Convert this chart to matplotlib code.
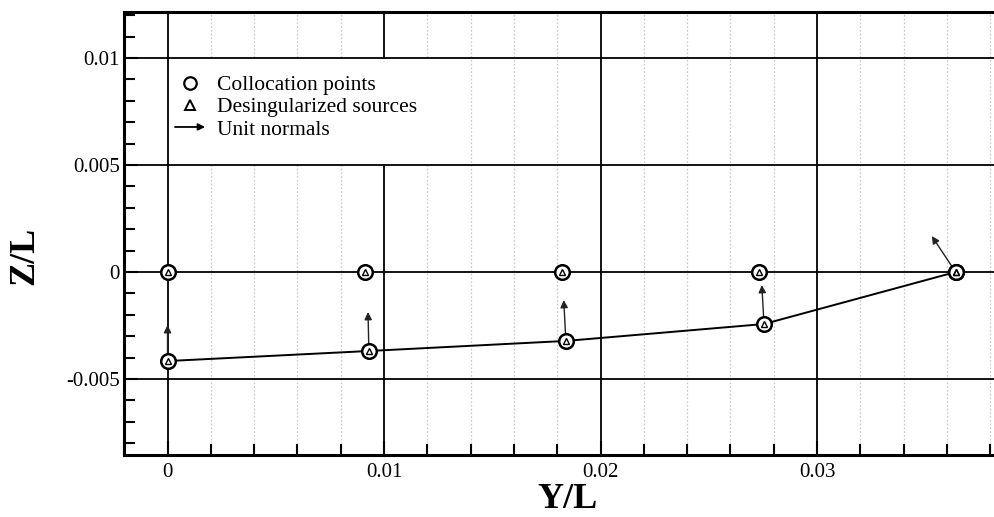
import matplotlib
matplotlib.use("Agg")
import matplotlib.pyplot as plt
from matplotlib.ticker import MultipleLocator, FuncFormatter
from matplotlib.patches import FancyArrowPatch, Rectangle
from matplotlib.legend_handler import HandlerBase
from matplotlib.lines import Line2D

plt.rcParams["font.family"] = ["Liberation Serif", "DejaVu Serif"]

# Points on the free surface (Z/L = 0)
surface_y = [0.0, 0.0091, 0.0182, 0.0273, 0.0364]
surface_z = [0.0, 0.0, 0.0, 0.0, 0.0]

# Points on the body section contour
body_y = [0.0, 0.0093, 0.0184, 0.02755, 0.0364]
body_z = [-0.00416, -0.00369, -0.00322, -0.00243, 0.0]

# Unit normal vectors (scaled) drawn from the body points
normal_dy = [0.0, -0.00004, -0.0001, -0.0001, -0.0011]
normal_dz = [0.00168, 0.00182, 0.00191, 0.00182, 0.00168]

x_major, x_minor = 0.01, 0.002
y_major, y_minor = 0.005, 0.001

W, H = 995, 517
fig = plt.figure(figsize=(W / 100, H / 100), dpi=100)
ax = fig.add_axes([124 / W, 62 / H, 876 / W, 443 / H])
ax.set_xlim(-0.00201, 0.03845)
ax.set_ylim(-0.00855, 0.01215)

ax.set_axisbelow(True)
ax.xaxis.set_major_locator(MultipleLocator(x_major))
ax.xaxis.set_minor_locator(MultipleLocator(x_minor))
ax.yaxis.set_major_locator(MultipleLocator(y_major))
ax.yaxis.set_minor_locator(MultipleLocator(y_minor))
fmt = FuncFormatter(lambda v, p: "%g" % round(v, 6))
ax.xaxis.set_major_formatter(fmt)
ax.yaxis.set_major_formatter(fmt)

ax.grid(which="major", color="black", lw=1.3)
ax.xaxis.grid(which="minor", color="#cccccc", ls=(0, (1.5, 1.5)), lw=0.9)

ax.tick_params(which="both", direction="in", top=False, right=False,
               labelsize=15, width=1.5)
ax.tick_params(axis="y", which="major", length=10, pad=3)
ax.tick_params(axis="x", which="major", length=10, pad=6)
ax.tick_params(which="minor", length=8)
for s in ax.spines.values():
    s.set_linewidth(2.2)

# white backing for the key
ax.add_patch(Rectangle((0.00008, 0.00506), 0.0127, 0.00488,
                       facecolor="white", edgecolor="none", zorder=1))

# body contour
ax.plot(body_y, body_z, color="black", lw=1.4, zorder=3)

# unit normals
for y0, z0, dy, dz in zip(body_y, body_z, normal_dy, normal_dz):
    ax.annotate("", xy=(y0 + dy, z0 + dz), xytext=(y0, z0),
                arrowprops=dict(arrowstyle="-|>", color="#222222", lw=1.0,
                                mutation_scale=11, shrinkA=0, shrinkB=0),
                zorder=3)

all_y = surface_y + body_y
all_z = surface_z + body_z
ax.plot(all_y, all_z, ls="none", marker="o", ms=10.5, mfc="white",
        mec="black", mew=1.8, zorder=4)
ax.plot(all_y, all_z, ls="none", marker="^", ms=4, mfc="none",
        mec="black", mew=1.0, zorder=5)


class ArrowKey(HandlerBase):
    def create_artists(self, legend, orig_handle, xdescent, ydescent,
                       width, height, fontsize, trans):
        yc = height / 2 - ydescent
        a = FancyArrowPatch((-xdescent, yc), (-xdescent + width, yc),
                            arrowstyle="-|>", mutation_scale=10, lw=1.3,
                            color="black", shrinkA=0, shrinkB=0,
                            transform=trans)
        return [a]


h_circle = Line2D([], [], ls="none", marker="o", ms=9, mfc="white",
                  mec="black", mew=1.6)
h_tri = Line2D([], [], ls="none", marker="^", ms=7, mfc="white",
               mec="black", mew=1.4)
h_arrow = FancyArrowPatch((0, 0), (1, 0))
leg = fig.legend([h_circle, h_tri, h_arrow],
                 ["Collocation points", "Desingularized sources",
                  "Unit normals"],
                 handler_map={FancyArrowPatch: ArrowKey()},
                 loc="upper left", bbox_to_anchor=(175 / W, 1 - 75 / H),
                 frameon=False, fontsize=15.5, borderpad=0,
                 borderaxespad=0, handlelength=1.4, handletextpad=0.55,
                 labelspacing=0.1)

fig.text(568 / W, 1 - 500 / H, "Y/L", fontsize=26, fontweight="bold",
         ha="center", va="center")
fig.text(25 / W, 1 - 256 / H, "Z/L", fontsize=26, fontweight="bold",
         ha="center", va="center", rotation=90)

fig.savefig("out.png", dpi=100)
